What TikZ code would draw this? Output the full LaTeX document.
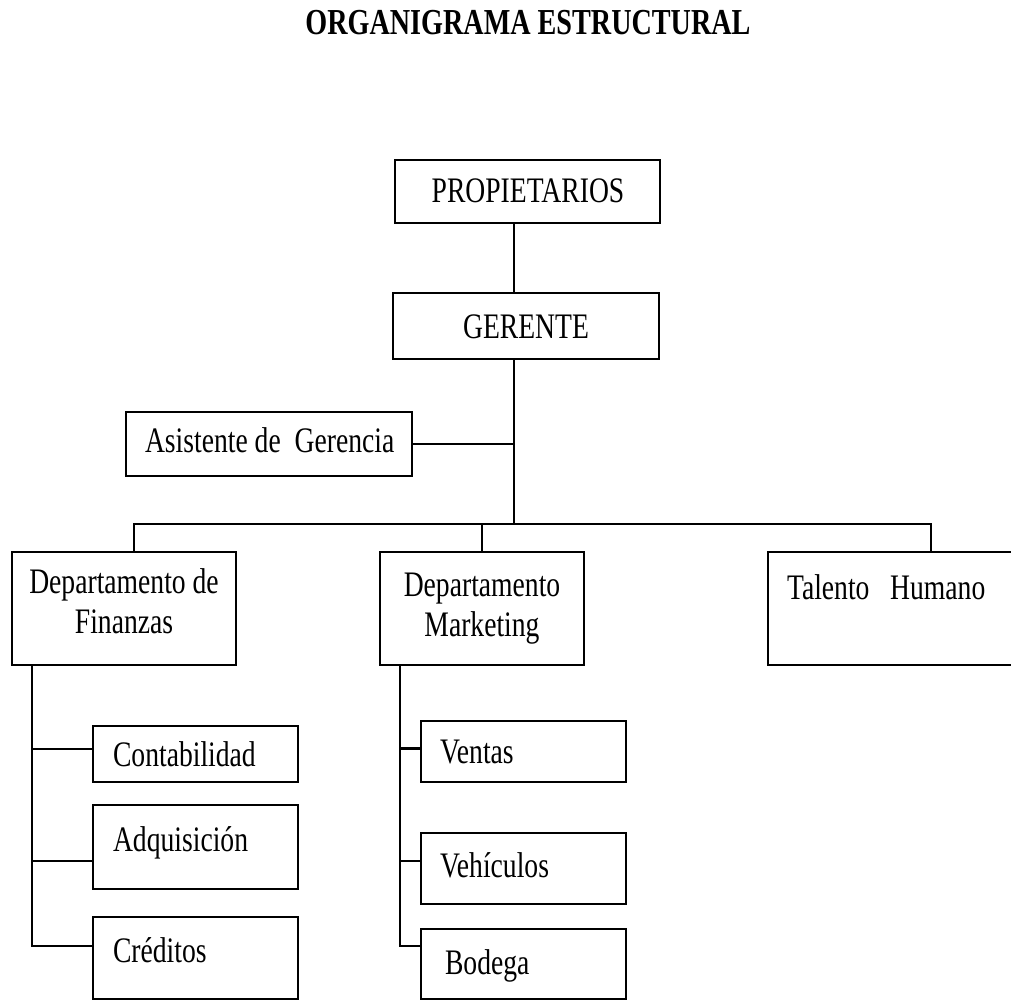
\documentclass[tikz,border=0pt]{standalone}
\usepackage{fontspec}
\setmainfont[FakeStretch=0.77]{Liberation Serif}
\begin{document}
\begin{tikzpicture}[x=0.01cm, y=-0.01cm, line width=.6pt,
  box/.style={rectangle, draw, line width=.75pt, inner sep=0pt},
  txt/.style={inner sep=0pt, font=\fontsize{10.2}{11.4}\selectfont},
  head/.style={inner sep=0pt, font=\fontsize{10.4}{12}\selectfont\bfseries}]
\useasboundingbox (0,0) rectangle (1011,1001);
\node [head, anchor=base] (title) at (528,35) {ORGANIGRAMA ESTRUCTURAL};
% boxes
\node [box, minimum width=2.65cm, minimum height=.63cm] (prop) at (527.5,191.5) {};
\node [box, minimum width=2.66cm, minimum height=.66cm] (ger) at (526,326) {};
\node [box, minimum width=2.86cm, minimum height=.64cm] (asis) at (269,444) {};
\node [box, minimum width=2.24cm, minimum height=1.13cm] (fin) at (124,608.5) {};
\node [box, minimum width=2.04cm, minimum height=1.13cm] (mkt) at (482,608.5) {};
\node [box, minimum width=2.62cm, minimum height=1.13cm] (tal) at (899,608.5) {};
\node [box, minimum width=2.05cm, minimum height=.56cm] (cont) at (195.5,754) {};
\node [box, minimum width=2.05cm, minimum height=.84cm] (adq) at (195.5,847) {};
\node [box, minimum width=2.05cm, minimum height=.82cm] (cred) at (195.5,958) {};
\node [box, minimum width=2.05cm, minimum height=.61cm] (vent) at (523.5,751.5) {};
\node [box, minimum width=2.05cm, minimum height=.71cm] (veh) at (523.5,868.5) {};
\node [box, minimum width=2.05cm, minimum height=.70cm] (bod) at (523.5,964) {};
% texts
\node [txt, anchor=base] (prop-t) at (528,203) {PROPIETARIOS};
\node [txt, anchor=base] (ger-t) at (526,339) {GERENTE};
\node [txt, anchor=base west] (asis-t) at (144,453) {Asistente de \ Gerencia};
\node [txt, anchor=base, align=center] (fin-t) at (124,634) {Departamento de\\Finanzas};
\node [txt, anchor=base, align=center] (mkt-t) at (482,637) {Departamento\\Marketing};
\node [txt, anchor=base west] (tal-t) at (786,600) {Talento \ \ Humano};
\node [txt, anchor=base west] (cont-t) at (112,767) {Contabilidad};
\node [txt, anchor=base west] (adq-t) at (112,852) {Adquisición};
\node [txt, anchor=base west] (cred-t) at (112,963) {Créditos};
\node [txt, anchor=base west] (vent-t) at (439,764) {Ventas};
\node [txt, anchor=base west] (veh-t) at (439,878) {Vehículos};
\node [txt, anchor=base west] (bod-t) at (444,975) {Bodega};
% connectors
\coordinate (bus) at (514,524);
\coordinate (finup) at (134,552);
\coordinate (talup) at (931,552);
\coordinate (finleg) at (32,0);
\coordinate (mktleg) at (400,0);
\draw (prop.south -| bus) -- (ger.north -| bus);
\draw (ger.south -| bus) -- (bus);
\draw (asis.east) -- (asis.east -| bus);
\draw (finup) |- (talup |- bus) -- (talup);
\draw (mkt.north) -- (mkt.north |- bus);
\draw (fin.south -| finleg) |- ([yshift=.12cm]cred.west);
\draw ([yshift=.05cm]cont.west) -- ([yshift=.05cm]cont.west -| finleg);
\draw ([yshift=-.14cm]adq.west) -- ([yshift=-.14cm]adq.west -| finleg);
\draw (mkt.south -| mktleg) |- ([yshift=.18cm]bod.west);
\draw ([yshift=.03cm]vent.west) -- ([yshift=.03cm]vent.west -| mktleg);
\draw ([yshift=.075cm]veh.west) -- ([yshift=.075cm]veh.west -| mktleg);
\end{tikzpicture}
\end{document}
